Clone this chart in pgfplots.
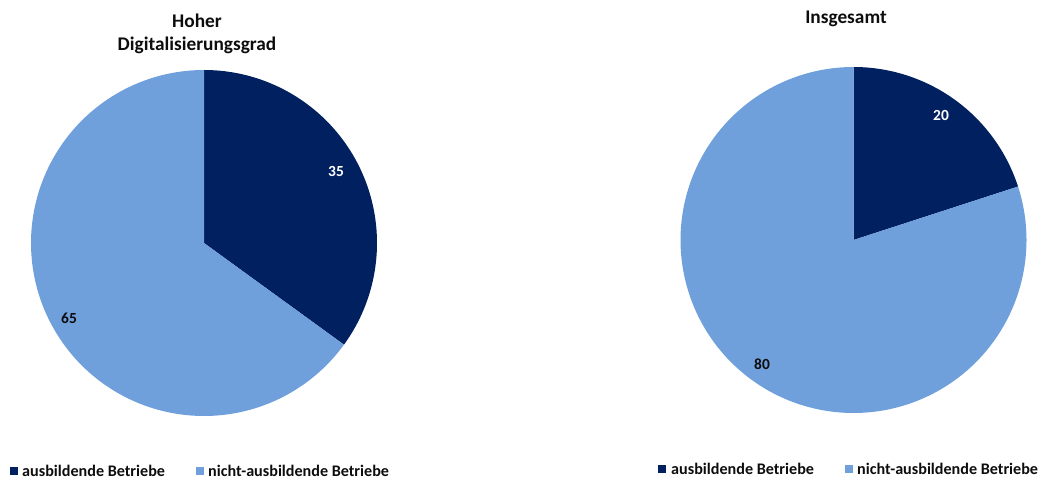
\documentclass[border=0pt]{standalone}
\usepackage{pgfplots}
\pgfplotsset{compat=1.18}
\usepackage{pgfplotstable}
\usepackage{fontspec}
\setmainfont{Carlito}
\definecolor{navy}{RGB}{0,32,96}
\definecolor{lblue}{RGB}{112,160,220}
\definecolor{txt}{RGB}{13,13,13}
\pgfplotstableread{
chart ausb nicht
1 35 65
2 20 80
}\pies
\begin{document}
\begin{tikzpicture}
\pgfplotstablegetelem{0}{ausb}\of\pies \edef\la{\pgfplotsretval}
\pgfplotstablegetelem{0}{nicht}\of\pies \edef\lb{\pgfplotsretval}
\pgfplotstablegetelem{1}{ausb}\of\pies \edef\ra{\pgfplotsretval}
\pgfplotstablegetelem{1}{nicht}\of\pies \edef\rb{\pgfplotsretval}
\pgfmathsetmacro\lea{90-3.6*\la}
\pgfmathsetmacro\leb{\lea-3.6*\lb}
\pgfmathsetmacro\rea{90-3.6*\ra}
\pgfmathsetmacro\reb{\rea-3.6*\rb}
\begin{axis}[width=1041bp,height=479bp,scale only axis,
  xmin=0,xmax=1041,ymin=0,ymax=479,hide axis,clip=false]
% left pie
\addplot[fill=navy,draw=none,domain=\lea:90,samples=150,variable=\t]
  ({204+173*cos(\t)},{236+173*sin(\t)}) -- (axis cs:204,236) -- cycle;
\addplot[fill=lblue,draw=none,domain=\leb:\lea,samples=250,variable=\t]
  ({204+173*cos(\t)},{236+173*sin(\t)}) -- (axis cs:204,236) -- cycle;
% right pie
\addplot[fill=navy,draw=none,domain=\rea:90,samples=150,variable=\t]
  ({853.5+173*cos(\t)},{239+173*sin(\t)}) -- (axis cs:853.5,239) -- cycle;
\addplot[fill=lblue,draw=none,domain=\reb:\rea,samples=250,variable=\t]
  ({853.5+173*cos(\t)},{239+173*sin(\t)}) -- (axis cs:853.5,239) -- cycle;
% data labels
\node[font=\bfseries\fontsize{15.5}{18}\selectfont,white] at (axis cs:336,308) {\la};
\node[font=\bfseries\fontsize{15.5}{18}\selectfont,txt] at (axis cs:69,161) {\lb};
\node[font=\bfseries\fontsize{15.5}{18}\selectfont,white] at (axis cs:941,364) {\ra};
\node[font=\bfseries\fontsize{15.5}{18}\selectfont,txt] at (axis cs:762,115) {\rb};
% titles
\node[font=\bfseries\fontsize{19.4}{23}\selectfont,txt,align=center] at (axis cs:197,445) {Hoher\\Digitalisierungsgrad};
\node[font=\bfseries\fontsize{19.4}{23}\selectfont,txt] at (axis cs:846,460.5) {Insgesamt};
% legends
\fill[navy] (axis cs:10,3.5) rectangle (axis cs:18,11.5);
\node[font=\bfseries\fontsize{16.2}{18}\selectfont,txt,anchor=west,inner sep=0] at (axis cs:22,8) {ausbildende Betriebe};
\fill[lblue] (axis cs:196,3.5) rectangle (axis cs:204,11.5);
\node[font=\bfseries\fontsize{16.2}{18}\selectfont,txt,anchor=west,inner sep=0] at (axis cs:208,8) {nicht-ausbildende Betriebe};
\fill[navy] (axis cs:658,6) rectangle (axis cs:666,14);
\node[font=\bfseries\fontsize{16.2}{18}\selectfont,txt,anchor=west,inner sep=0] at (axis cs:671,10) {ausbildende Betriebe};
\fill[lblue] (axis cs:845,6) rectangle (axis cs:853,14);
\node[font=\bfseries\fontsize{16.2}{18}\selectfont,txt,anchor=west,inner sep=0] at (axis cs:857,10) {nicht-ausbildende Betriebe};
\end{axis}
\pgfresetboundingbox
\path (0,0) rectangle (1041bp,479bp);
\end{tikzpicture}
\end{document}
